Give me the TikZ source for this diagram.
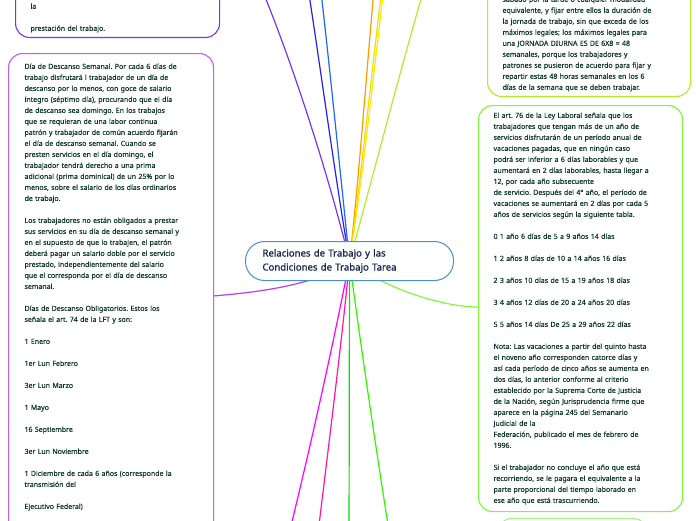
\documentclass[tikz,border=0pt]{standalone}
\usepackage{fontspec}
\setmainfont{Noto Sans}
\newfontfamily\notefont{Noto Sans}[FakeBold=0.35]
\newfontfamily\topicfont{Noto Sans}[FakeBold=0.9]
\usepackage{xcolor}
\definecolor{mmText}{RGB}{16,58,40}
\definecolor{mmNavy}{RGB}{26,40,82}
\definecolor{mmHubLine}{RGB}{74,144,206}
\definecolor{mmViolet}{RGB}{122,52,240}
\definecolor{mmLilac}{RGB}{186,96,245}
\definecolor{mmPurple}{RGB}{176,64,248}
\definecolor{mmBlue}{RGB}{34,34,235}
\definecolor{mmSky}{RGB}{30,100,255}
\definecolor{mmOrange}{RGB}{255,154,0}
\definecolor{mmYellow}{RGB}{255,214,0}
\definecolor{mmLemon}{RGB}{238,240,0}
\definecolor{mmLime}{RGB}{176,238,40}
\definecolor{mmGrass}{RGB}{130,245,60}
\definecolor{mmMint}{RGB}{168,240,130}
\definecolor{mmMagenta}{RGB}{255,0,255}
\definecolor{mmPink}{RGB}{255,20,170}
\definecolor{mmGreen}{RGB}{0,230,0}
\definecolor{mmLeaf}{RGB}{50,245,0}
\usepackage{tikz}
\usetikzlibrary{backgrounds}
\newcommand{\gap}{\\[11pt]}
\frenchspacing

\begin{document}
\begin{tikzpicture}[x=1pt,y=-1pt,
  note/.style={draw,line width=1.1pt,rounded corners=14pt,fill=white,align=left,
    font=\notefont\fontsize{7.0}{11}\selectfont\frenchspacing,text=mmText,inner xsep=15pt,inner ysep=7pt},
  topic/.style={draw=mmHubLine,line width=1pt,fill=white,rounded corners=19pt,
    minimum width=208pt,minimum height=39pt,text width=174pt,inner xsep=17pt,
    align=left,font=\topicfont\fontsize{9.6}{14}\selectfont,text=mmNavy},
  br/.style={line width=1.2pt}]
  \useasboundingbox (0,0) rectangle (696,520);

  % central topic
  \node[topic,anchor=north west] (tema) at (245,241)
    {Relaciones de Trabajo y las\\Condiciones de Trabajo Tarea};

  % left side
  \node[note,draw=mmViolet,anchor=south west,text width=174pt,text height=120pt,inner ysep=5pt] (prestacion) at (15,38)
    {la\gap prestación del trabajo.};
  \node[note,draw=mmLilac,anchor=north west,text width=173pt,inner xsep=16pt,inner ysep=10pt,text depth=480pt] (descanso) at (8,53)
    {Día de Descanso Semanal. Por cada 6 días de\\
     trabajo disfrutará l trabajador de un día de\\
     descanso por lo menos, con goce de salario\\
     íntegro (séptimo día), procurando que el día\\
     de descanso sea domingo. En los trabajos\\
     que se requieran de una labor continua\\
     patrón y trabajador de común acuerdo fijarán\\
     el día de descanso semanal. Cuando se\\
     presten servicios en el día domingo, el\\
     trabajador tendrá derecho a una prima\\
     adicional (prima dominical) de un 25\% por lo\\
     menos, sobre el salario de los días ordinarios\\
     de trabajo.\gap
     Los trabajadores no están obligados a prestar\\
     sus servicios en su día de descanso semanal y\\
     en el supuesto de que lo trabajen, el patrón\\
     deberá pagar un salario doble por el servicio\\
     prestado, independientemente del salario\\
     que el corresponda por el día de descanso\\
     semanal.\gap
     Días de Descanso Obligatorios. Estos los\\
     señala el art. 74 de la LFT y son:\gap
     1 Enero\gap
     1er Lun Febrero\gap
     3er Lun Marzo\gap
     1 Mayo\gap
     16 Septiembre\gap
     3er Lun Noviembre\gap
     1 Diciembre de cada 6 años (corresponde la\\
     transmisión del\gap
     Ejecutivo Federal)};

  % right side
  \node[note,draw=mmLime,anchor=south west,text width=173pt,text height=120pt,inner ysep=5pt] (jornada) at (487,97)
    {sábado por la tarde o cualquier modalidad\\
     equivalente, y fijar entre ellos la duración de\\
     la jornada de trabajo, sin que exceda de los\\
     máximos legales; los máximos legales para\\
     una JORNADA DIURNA ES DE 6X8 = 48\\
     semanales, porque los trabajadores y\\
     patrones se pusieron de acuerdo para fijar y\\
     repartir estas 48 horas semanales en los 6\\
     días de la semana que se deben trabajar.};
  \node[note,draw=mmGrass,anchor=north west,text width=174pt] (vacaciones) at (478,105)
    {El art. 76 de la Ley Laboral señala que los\\
     trabajadores que tengan más de un año de\\
     servicios disfrutarán de un período anual de\\
     vacaciones pagadas, que en ningún caso\\
     podrá ser inferior a 6 días laborables y que\\
     aumentará en 2 días laborables, hasta llegar a\\
     12, por cada año subsecuente\\
     de servicio. Después del 4° año, el período de\\
     vacaciones se aumentará en 2 días por cada 5\\
     años de servicios según la siguiente tabla.\gap
     0 1 año 6 días de 5 a 9 años 14 días\gap
     1 2 años 8 días de 10 a 14 años 16 días\gap
     2 3 años 10 días de 15 a 19 años 18 días\gap
     3 4 años 12 días de 20 a 24 años 20 días\gap
     5 5 años 14 días De 25 a 29 años 22 días\gap
     Nota: Las vacaciones a partir del quinto hasta\\
     el noveno año corresponden catorce días y\\
     así cada período de cinco años se aumenta en\\
     dos días, lo anterior conforme al criterio\\
     establecido por la Suprema Corte de Justicia\\
     de la Nación, según Jurisprudencia firme que\\
     aparece en la página 245 del Semanario\\
     Judicial de la\\
     Federación, publicado el mes de febrero de\\
     1996.\gap
     Si el trabajador no concluye el año que está\\
     recorriendo, se le pagara el equivalente a la\\
     parte proporcional del tiempo laborado en\\
     ese año que está trascurriendo.};
  \node[note,draw=mmMint,anchor=north west,minimum width=150pt,minimum height=40pt] (siguiente) at (497,518) {};

  % free ends of the branches
  \coordinate (toViolet) at (258,-20);
  \coordinate (toBlue) at (306,-25);
  \coordinate (toSky) at (319,-25);
  \coordinate (toOrange) at (375,-20);
  \coordinate (toYellow) at (383,-20);
  \coordinate (toLemon) at (385,-20);
  \coordinate (toLime) at (428,-25);
  \coordinate (inDescanso) at (213,296);
  \coordinate (inVacaciones) at (478,307);
  \coordinate (toMagenta) at (285,550);
  \coordinate (toPink) at (316,550);
  \coordinate (toGreen) at (349,550);
  \coordinate (toLeaf) at (392,550);

  \begin{scope}[on background layer]
    \draw[br,mmViolet] (tema.center) .. controls (330,180) and (292,60) .. (toViolet);
    \draw[br,mmBlue] (tema.center) .. controls (334,170) and (318,50) .. (toBlue);
    \draw[br,mmSky] (tema.center) .. controls (340,170) and (328,50) .. (toSky);
    \draw[br,mmOrange] (tema.center) .. controls (360,170) and (368,50) .. (toOrange);
    \draw[br,mmYellow] (tema.center) .. controls (362,170) and (374,50) .. (toYellow);
    \draw[br,mmLemon] (tema.center) .. controls (364,170) and (376,50) .. (toLemon);
    \draw[br,mmLime] (tema.center) .. controls (372,180) and (400,70) .. (toLime);
    \draw[br,mmPurple] (tema.center) .. controls (320,284) and (262,292) .. (inDescanso);
    \draw[br,mmGrass] (tema.center) .. controls (380,286) and (440,307) .. (inVacaciones);
    \draw[br,mmMagenta] (tema.center) .. controls (334,340) and (310,450) .. (toMagenta);
    \draw[br,mmPink] (tema.center) .. controls (342,340) and (328,450) .. (toPink);
    \draw[br,mmGreen] (tema.center) -- (toGreen);
    \draw[br,mmLeaf] (tema.center) .. controls (360,340) and (376,450) .. (toLeaf);
  \end{scope}
\end{tikzpicture}
\end{document}
